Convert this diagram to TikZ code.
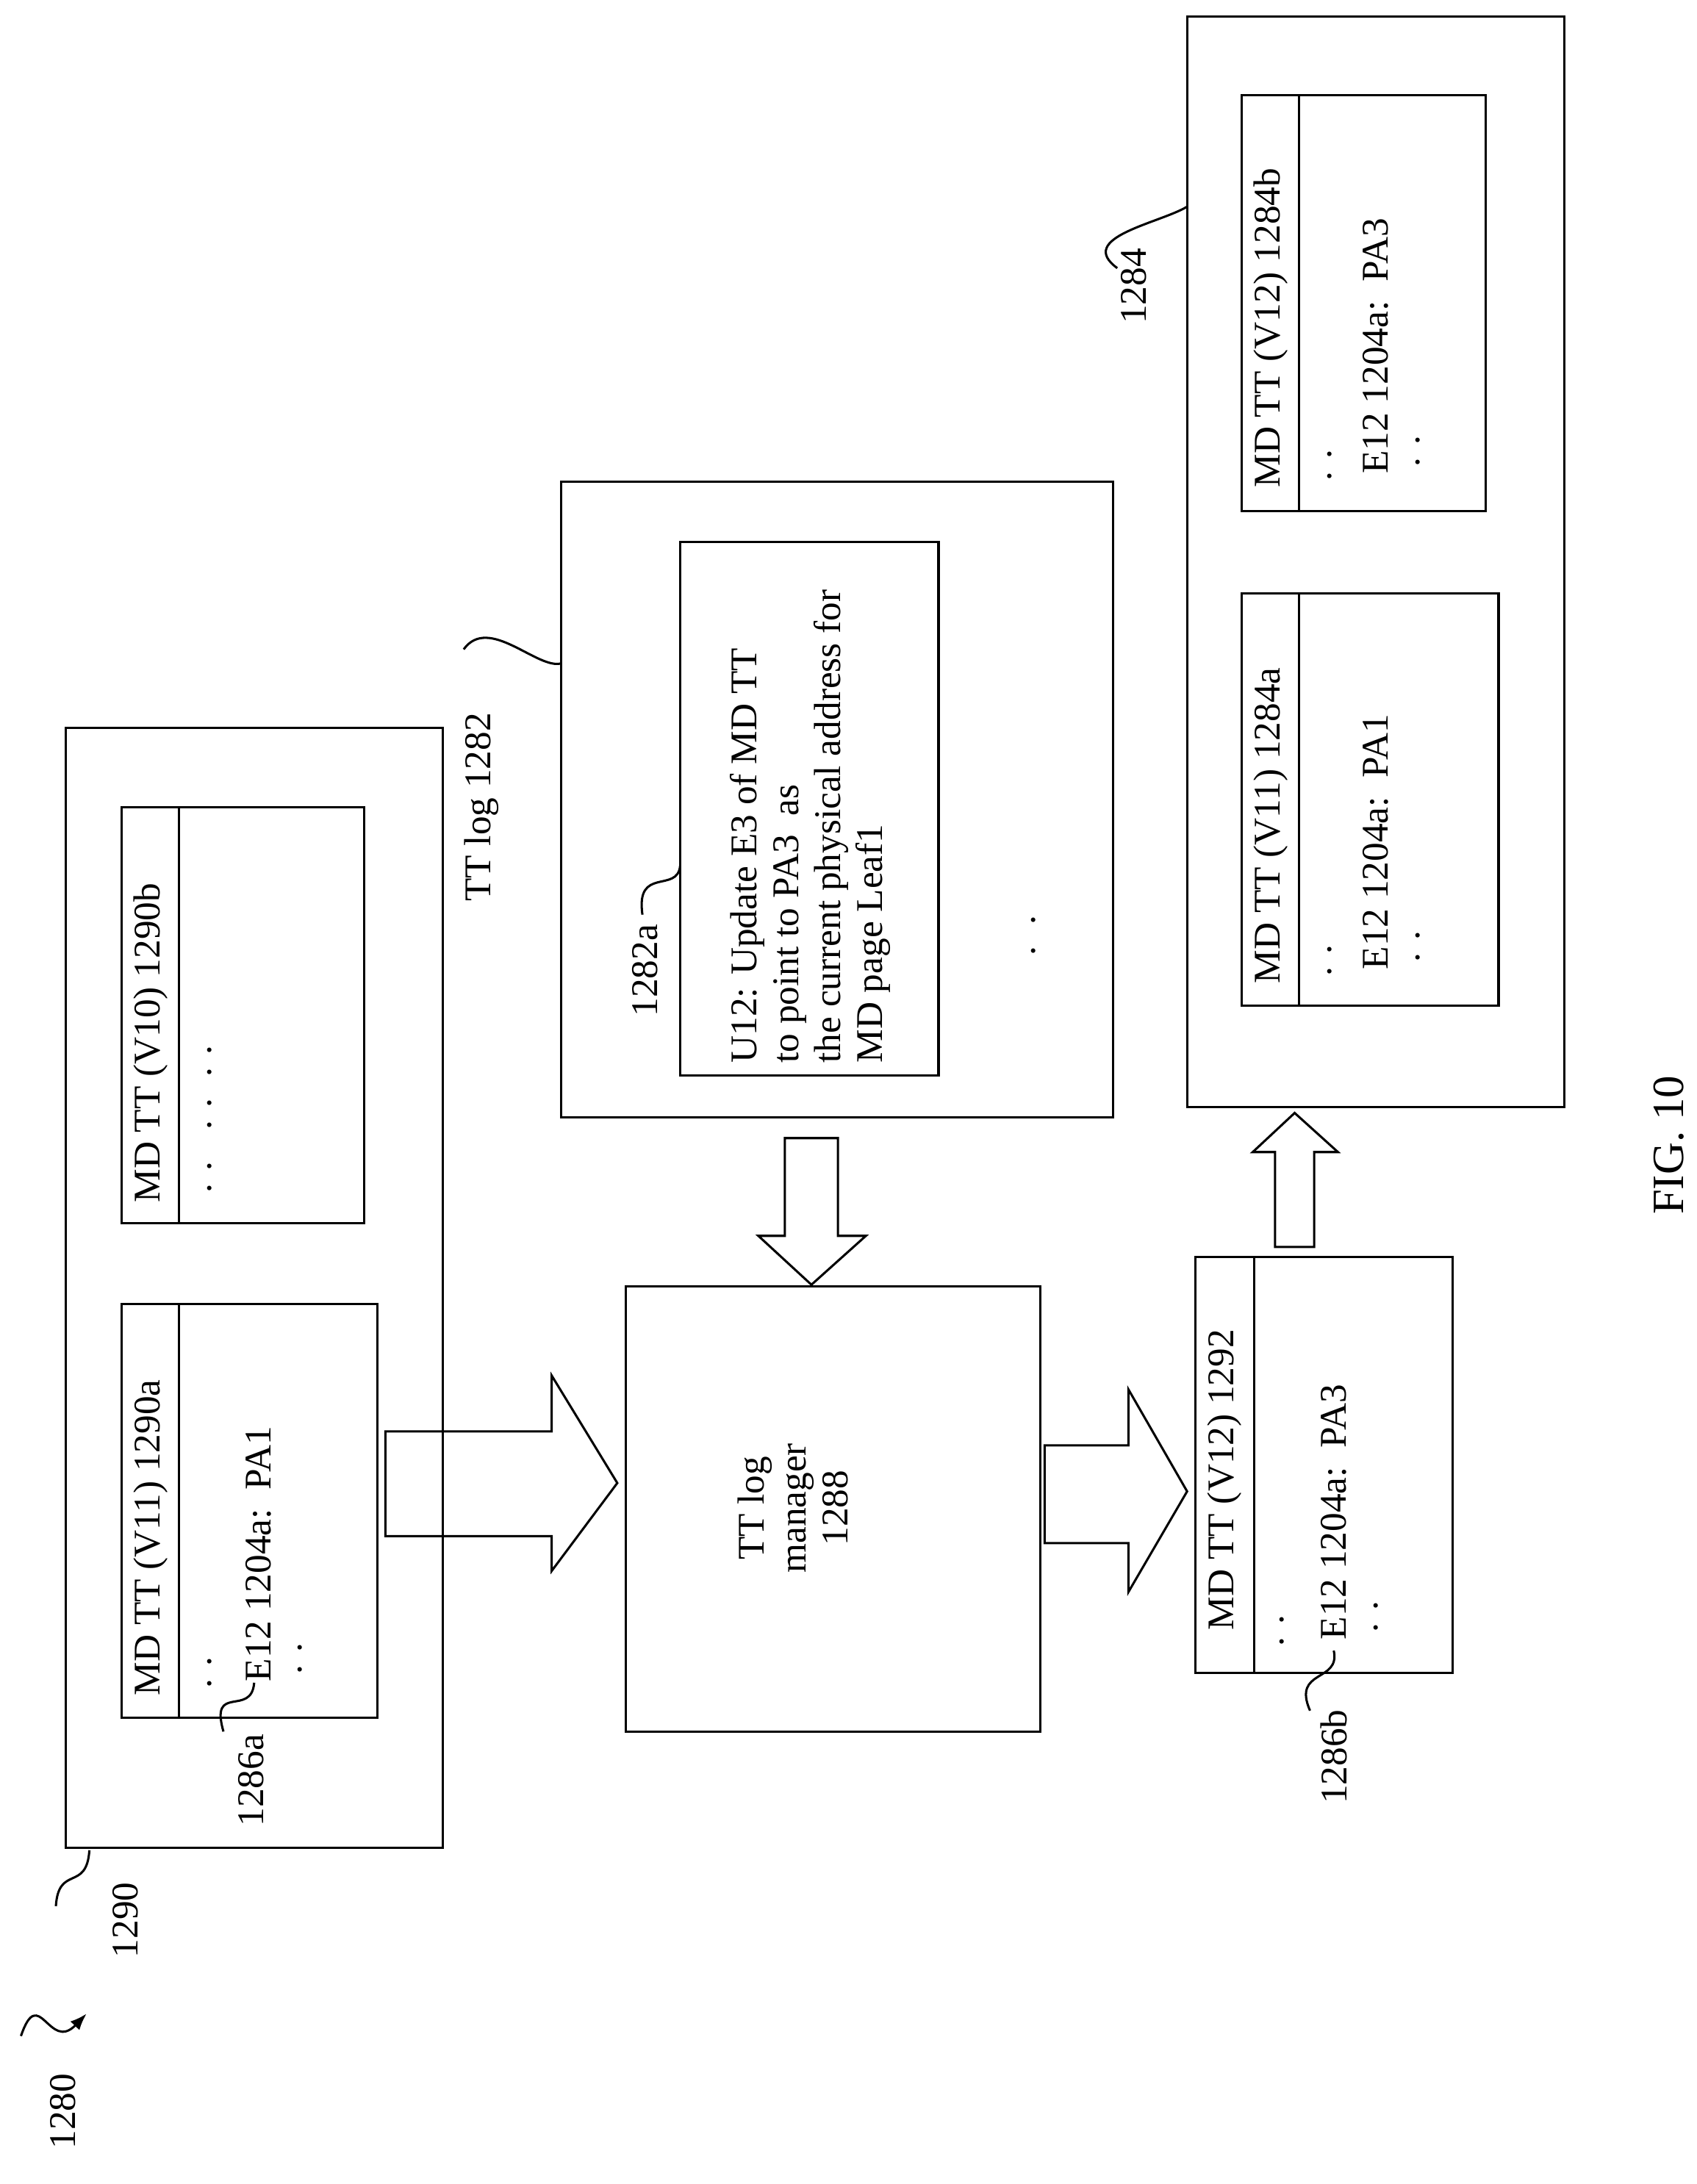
\documentclass[tikz,border=0pt]{standalone}
\usepackage{fontspec}
\setmainfont{Liberation Serif}
\usetikzlibrary{arrows.meta}
\begin{document}
\begin{tikzpicture}[x=1pt,y=-1pt,line width=1.6pt,
 txt/.style={rotate=90,font=\fontsize{27}{30}\selectfont,inner sep=0pt},
 lbl/.style={rotate=90,font=\fontsize{27}{30}\selectfont,inner sep=2pt}]
\useasboundingbox (0,0) rectangle (1215,1564);
% box 1290
\draw (47,521) rectangle (317,1323);
\draw (87,934) rectangle (270,1230); \draw (128,934)--(128,1230);
\node[txt,anchor=west] (h90a) at (108,1215) {MD TT (V11) 1290a};
\node[txt,anchor=west] at (150,1210) {. .};
\node[txt,anchor=west] (e12a) at (185,1205) {E12 1204a:\ \ PA1};
\node[txt,anchor=west] at (215,1200) {. .};
\draw (87,578) rectangle (261,876); \draw (128,578)--(128,876);
\node[txt,anchor=west] at (108,862) {MD TT (V10) 1290b};
\node[txt,anchor=west] at (150,855) {. . \ \ . . \ . .};
\node[lbl] (l86a) at (180,1275) {1286a};
\draw (160,1240) .. controls (150,1205) and (180,1230) .. (182,1205);
\node[lbl] (l90) at (90,1375) {1290};
\draw (40,1365) .. controls (42,1335) and (62,1355) .. (64,1325);
\node[lbl] (l80) at (45,1512) {1280};
\draw[-{Latex[length=12pt]}] (15,1458) .. controls (28,1420) and (35,1470) .. (62,1442);
% TT log 1282
\draw (402,345) rectangle (797,800);
\node[lbl] (l82) at (345,578) {TT log 1282};
\draw (332,465) .. controls (350,440) and (385,480) .. (402,475);
\draw (487,388) rectangle (672,770);
\node[txt,anchor=west,align=left] (u12) at (580,762) {U12: Update E3 of MD TT\\to point to PA3\ \ as\\the current physical address for\\MD page Leaf1};
\node[lbl] (l82a) at (462,695) {1282a};
\draw (460,655) .. controls (455,620) and (485,640) .. (487,620);
\node[txt] at (740,670) {. \ .};
% down arrow
\draw (562,815)--(600,815)--(600,885)--(620,885)--(581,920)--(543,885)--(562,885)--cycle;
% manager
\draw (448,921) rectangle (745,1240);
\node[txt,align=center] (mgr) at (568,1080) {TT log\\manager\\1288};
% right arrows
\draw (276,1025)--(395,1025)--(395,985)--(442,1062)--(395,1125)--(395,1100)--(276,1100)--cycle;
\draw (748,1035)--(808,1035)--(808,995)--(850,1068)--(808,1140)--(808,1105)--(748,1105)--cycle;
% 1292
\draw (856,900) rectangle (1040,1198); \draw (898,900)--(898,1198);
\node[txt,anchor=west] at (877,1168) {MD TT (V12) 1292};
\node[txt,anchor=west] at (918,1180) {. .};
\node[txt,anchor=west] (e12b) at (955,1175) {E12 1204a:\ \ PA3};
\node[txt,anchor=west] at (985,1170) {. .};
\node[lbl] (l86b) at (955,1258) {1286b};
\draw (938,1225) .. controls (925,1195) and (960,1205) .. (955,1182);
% up arrow
\draw (913,893)--(941,893)--(941,825)--(958,825)--(927,797)--(897,825)--(913,825)--cycle;
% 1284
\draw (850,12) rectangle (1120,793);
\node[lbl] (l84) at (812,205) {1284};
\draw (800,192) .. controls (770,170) and (830,160) .. (850,148);
\draw (889,425) rectangle (1073,720); \draw (930,425)--(930,720);
\node[txt,anchor=west] at (910,705) {MD TT (V11) 1284a};
\node[txt,anchor=west] at (952,700) {. .};
\node[txt,anchor=west] at (985,695) {E12 1204a:\ \ PA1};
\node[txt,anchor=west] at (1015,690) {. .};
\draw (889,68) rectangle (1064,366); \draw (930,68)--(930,366);
\node[txt,anchor=west] at (910,350) {MD TT (V12) 1284b};
\node[txt,anchor=west] at (952,345) {. .};
\node[txt,anchor=west] at (985,340) {E12 1204a:\ \ PA3};
\node[txt,anchor=west] at (1015,335) {. .};
\node[txt,font=\fontsize{32}{36}\selectfont] (fig) at (1195,820) {FIG. 10};
\end{tikzpicture}
\end{document}
